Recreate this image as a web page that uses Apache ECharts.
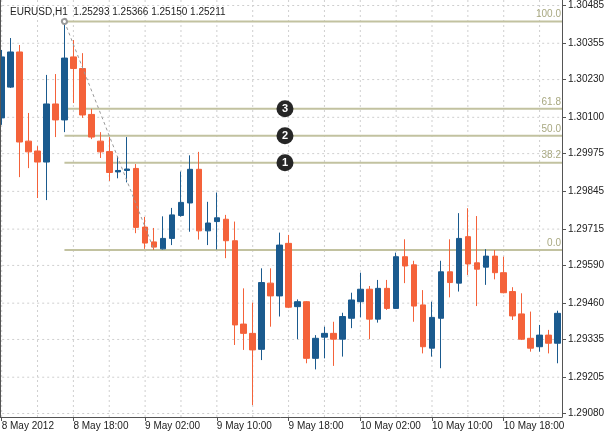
<!DOCTYPE html>
<html><head><meta charset="utf-8">
<script src="https://cdn.jsdelivr.net/npm/echarts@6/dist/echarts.min.js"></script>
<style>html,body{margin:0;padding:0;background:#fff}#c{width:609px;height:435px}</style>
</head><body><div id="c"></div>
<script>
const categories = [
 '8 May 10:00','8 May 11:00','8 May 12:00','8 May 13:00','8 May 14:00','8 May 15:00','8 May 16:00','8 May 17:00',
 '8 May 18:00','8 May 19:00','8 May 20:00','8 May 21:00','8 May 22:00','8 May 23:00','9 May 00:00','9 May 01:00',
 '9 May 02:00','9 May 03:00','9 May 04:00','9 May 05:00','9 May 06:00','9 May 07:00','9 May 08:00','9 May 09:00',
 '9 May 10:00','9 May 11:00','9 May 12:00','9 May 13:00','9 May 14:00','9 May 15:00','9 May 16:00','9 May 17:00',
 '9 May 18:00','9 May 19:00','9 May 20:00','9 May 21:00','9 May 22:00','9 May 23:00','10 May 00:00','10 May 01:00',
 '10 May 02:00','10 May 03:00','10 May 04:00','10 May 05:00','10 May 06:00','10 May 07:00','10 May 08:00','10 May 09:00',
 '10 May 10:00','10 May 11:00','10 May 12:00','10 May 13:00','10 May 14:00','10 May 15:00','10 May 16:00','10 May 17:00',
 '10 May 18:00','10 May 19:00','10 May 20:00','10 May 21:00','10 May 22:00','10 May 23:00','11 May 00:00'
];
const openP = [1.30098,1.30204,1.30325,1.30018,1.29984,1.29946,1.30146,1.30091,1.30308,1.30268,1.30110,1.30018,1.29982,1.29912,1.29917,1.29924,
 1.29722,1.29671,1.29647,1.29683,1.29762,1.29805,1.29921,1.29709,1.29741,1.29749,1.29675,1.29388,1.29356,1.29301,1.29529,1.29485,
 1.29666,1.29448,1.29465,1.29270,1.29343,1.29356,1.29336,1.29408,1.29465,1.29508,1.29405,1.29511,1.29442,1.29620,1.29592,1.29454,
 1.29305,1.29408,1.29568,1.29529,1.29689,1.29599,1.29584,1.29622,1.29565,1.29500,1.29423,1.29339,1.29310,1.29350,1.29322];
const highP = [1.30332,1.30373,1.30349,1.30115,1.30001,1.30246,1.30249,1.30430,1.30366,1.30321,1.30129,1.30049,1.30032,1.29965,1.30032,1.29939,
 1.29757,1.29719,1.29759,1.29788,1.29913,1.29969,1.29981,1.29809,1.29841,1.29764,1.29741,1.29511,1.29462,1.29580,1.29580,1.29703,
 1.29695,1.29473,1.29467,1.29350,1.29379,1.29396,1.29427,1.29496,1.29565,1.29519,1.29540,1.29540,1.29634,1.29680,1.29606,1.29505,
 1.29465,1.29606,1.29680,1.29770,1.29787,1.29760,1.29646,1.29643,1.29620,1.29515,1.29494,1.29431,1.29385,1.29368,1.29434];
const lowP = [1.30074,1.30201,1.29894,1.29925,1.29822,1.29815,1.30032,1.30049,1.30149,1.30098,1.30025,1.29960,1.29881,1.29890,1.29876,1.29701,
 1.29647,1.29643,1.29645,1.29660,1.29758,1.29706,1.29679,1.29660,1.29645,1.29615,1.29316,1.29299,1.29109,1.29264,1.29379,1.29414,
 1.29443,1.29336,1.29253,1.29232,1.29270,1.29244,1.29276,1.29374,1.29411,1.29336,1.29393,1.29437,1.29440,1.29529,1.29396,1.29287,
 1.29276,1.29236,1.29480,1.29500,1.29557,1.29450,1.29523,1.29542,1.29494,1.29402,1.29333,1.29293,1.29293,1.29287,1.29253];
const closeP = [1.30308,1.30325,1.30015,1.29981,1.29946,1.30146,1.30091,1.30304,1.30268,1.30108,1.30032,1.29981,1.29910,1.29917,1.29922,1.29721,
 1.29667,1.29653,1.29683,1.29764,1.29807,1.29921,1.29709,1.29736,1.29754,1.29675,1.29385,1.29356,1.29299,1.29531,1.29485,1.29660,
 1.29446,1.29465,1.29270,1.29339,1.29356,1.29336,1.29414,1.29471,1.29508,1.29405,1.29511,1.29442,1.29620,1.29588,1.29450,1.29310,
 1.29411,1.29568,1.29531,1.29683,1.29595,1.29577,1.29622,1.29565,1.29496,1.29416,1.29336,1.29305,1.29350,1.29322,1.29425];
const yTickLabels = ['1.30485','1.30355','1.30230','1.30100','1.29975','1.29845','1.29715','1.29590','1.29460','1.29335','1.29205','1.29080'];
const firstXLabel = '8 May 2012';
const gridBars = [0,4,8,12,16,20,24,28,32,36,40,44,48,52,56,60];
const headerText = 'EURUSD,H1  1.25293 1.25366 1.25150 1.25211';
const fibHigh = 1.30430, fibLow = 1.29643;
const fibStartBar = 7, fibEndBar = 17, markBar = 31;
const fibRatios = [1, 0.618, 0.5, 0.382, 0];
const fibLabels = ['100.0','61.8','50.0','38.2','0.0'];
const fibMarks = ['', '3', '2', '1', ''];

const yMin = 1.29068, yMax = 1.30504;
const yTicks = yTickLabels.map(Number);
const UP = '#1a5a8e', DOWN = '#f4623a';
const FONT = '"Liberation Sans", Arial, sans-serif';

const chart = echarts.init(document.getElementById('c'));
chart.setOption({
  animation: false,
  backgroundColor: '#ffffff',
  title: { text: headerText, left: 5, top: 2, textStyle: { fontSize: 10, fontWeight: 'normal', color: '#222', fontFamily: FONT } },
  grid: { left: -2.8, right: 47, top: 0, bottom: 18, outerBoundsMode: 'none', containLabel: false },
  xAxis: {
    type: 'category', data: categories, boundaryGap: true,
    axisLine: { show: true, lineStyle: { color: '#555', width: 1 } },
    axisTick: { show: true, alignWithLabel: true, interval: 7, length: 4, lineStyle: { color: '#555' } },
    axisLabel: { interval: 7, align: 'left', margin: 4, fontSize: 10, color: '#222', fontFamily: FONT,
      formatter: (v, i) => i === 0 ? firstXLabel : v },
    splitLine: { show: false }
  },
  yAxis: {
    type: 'value', position: 'right', min: yMin, max: yMax, scale: true,
    axisLine: { show: true, lineStyle: { color: '#555', width: 1 } },
    axisTick: { show: true, length: 4, customValues: yTicks, lineStyle: { color: '#555' } },
    axisLabel: { customValues: yTicks, margin: 6, fontSize: 10, color: '#222', fontFamily: FONT,
      formatter: v => v.toFixed(5) },
    splitLine: { show: false }
  },
  graphic: [{ type: 'line', shape: { x1: 0.5, y1: 0, x2: 0.5, y2: 417 }, style: { stroke: '#555', lineWidth: 1 }, z: 10 }],
  series: [
    { type: 'custom', name: 'vgrid', z: 1, silent: true,
      data: gridBars.map(b => [b, yTicks[0]]),
      renderItem: (params, api) => {
        const cs = params.coordSys; const p = api.coord([api.value(0), api.value(1)]);
        return { type: 'line', shape: { x1: p[0], y1: cs.y, x2: p[0], y2: cs.y + cs.height },
          style: { stroke: '#cfcfcf', lineWidth: 1, lineDash: [2, 3] } };
      } },
    { type: 'custom', name: 'hgrid', z: 1, silent: true,
      data: yTicks.map(v => [0, v]),
      renderItem: (params, api) => {
        const cs = params.coordSys; const p = api.coord([api.value(0), api.value(1)]);
        return { type: 'line', shape: { x1: cs.x, y1: p[1], x2: cs.x + cs.width, y2: p[1] },
          style: { stroke: '#cfcfcf', lineWidth: 1, lineDash: [2, 3] } };
      } },
    { type: 'custom', name: 'fib', z: 2, silent: true,
      data: fibRatios.map(r => [fibStartBar, fibLow + r * (fibHigh - fibLow)]),
      renderItem: (params, api) => {
        const i = params.dataIndex; const cs = params.coordSys;
        const p = api.coord([api.value(0), api.value(1)]);
        const xr = cs.x + cs.width;
        const ch = [
          { type: 'line', shape: { x1: p[0], y1: p[1], x2: xr, y2: p[1] }, style: { stroke: '#c2c2a0', lineWidth: 2 } },
          { type: 'text', style: { text: fibLabels[i], x: xr - 1, y: p[1] - 2, align: 'right', verticalAlign: 'bottom',
            fill: '#a8a880', font: '10px ' + FONT } }
        ];
        if (fibMarks[i]) {
          const m = api.coord([markBar, api.value(1)]); const bw = api.size([1, 0])[0];
          const cx = m[0] + 0.6 * bw;
          ch.push({ type: 'circle', shape: { cx: cx, cy: p[1], r: 8.5 }, style: { fill: '#262626' }, z2: 5 });
          ch.push({ type: 'text', style: { text: fibMarks[i], x: cx, y: p[1] + 0.5, align: 'center', verticalAlign: 'middle',
            fill: '#ffffff', font: 'bold 11px ' + FONT }, z2: 6 });
        }
        return { type: 'group', children: ch };
      } },
    { type: 'candlestick', name: 'EURUSD', z: 3, barWidth: 6,
      data: openP.map((o, i) => [o, closeP[i], lowP[i], highP[i]]),
      itemStyle: { color: UP, color0: DOWN, borderColor: UP, borderColor0: DOWN, borderWidth: 1 },
      markLine: { silent: true, symbol: ['emptyCircle', 'none'], symbolSize: 5, animation: false,
        label: { show: false },
        lineStyle: { type: [3, 3], color: '#9a9a9a', width: 1 },
        data: [[{ coord: [fibStartBar, fibHigh] }, { coord: [fibEndBar, fibLow] }]] } }
  ]
});
</script></body></html>
